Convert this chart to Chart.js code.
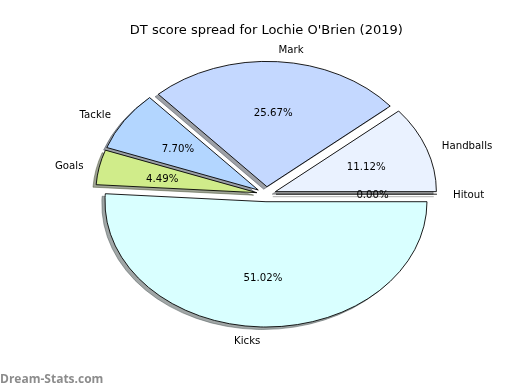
<!DOCTYPE html>
<html>
<head>
<meta charset="utf-8">
<script src="https://cdn.jsdelivr.net/npm/chart.js@4"></script>
<style>
  body { margin: 0; background: #fff; }
  canvas { display: block; }
</style>
</head>
<body>
<canvas id="pieChart" width="520" height="390"></canvas>
<script>
// slices in clockwise order starting at 3 o'clock
const categories = ['Hitout', 'Kicks', 'Goals', 'Tackle', 'Mark', 'Handballs'];
const dtPoints = [0, 477, 42, 72, 240, 104];
const sliceColors = ['#f2f2f2', '#d9ffff', '#d0ec8a', '#b3d6ff', '#c4d8ff', '#eaf2ff'];
const chartTitle = "DT score spread for Lochie O'Brien (2019)";
const watermark = 'Dream-Stats.com';

const radiusX = 161;
const squash = 125.3 / 161;      // the pie is an ellipse in the original
const explode = 0.06 * radiusX;  // every slice pushed out a bit
const textNudge = 1.5;           // canvas 'middle' sits a bit higher than matplotlib's

function hexToRgb(hex) {
  const n = parseInt(hex.slice(1), 16);
  return [(n >> 16) & 255, (n >> 8) & 255, n & 255];
}

function midAngle(arc) {
  return (arc.startAngle + arc.endAngle) / 2;
}

// zero slices are not drawn by chart.js, matplotlib still draws one edge line
function drawSpoke(ctx, arc) {
  const a = arc.startAngle;
  ctx.beginPath();
  ctx.moveTo(arc.x, arc.y);
  ctx.lineTo(arc.x + Math.cos(a) * arc.outerRadius, arc.y + Math.sin(a) * arc.outerRadius);
  ctx.lineWidth = 1;
  ctx.strokeStyle = '#000';
  ctx.stroke();
}

const ellipsePie = {
  id: 'ellipsePie',
  beforeDatasetsDraw(chart) {
    const ctx = chart.ctx;
    const arcs = chart.getDatasetMeta(0).data;
    const cx = arcs[0].x, cy = arcs[0].y;

    ctx.save();
    ctx.translate(cx, cy);
    ctx.scale(1, squash);
    ctx.translate(-cx, -cy);

    // shadows first, shape itself pushed off the canvas
    arcs.forEach(function (arc, i) {
      const mid = midAngle(arc);
      const rgb = hexToRgb(sliceColors[i]).map(v => Math.round(v * 0.3));
      ctx.save();
      ctx.shadowColor = `rgba(${rgb[0]}, ${rgb[1]}, ${rgb[2]}, 0.5)`;
      ctx.shadowBlur = 0;
      ctx.shadowOffsetX = 2000 - 3.2;
      ctx.shadowOffsetY = 2.5;
      ctx.translate(-2000 + Math.cos(mid) * explode, Math.sin(mid) * explode);
      if (arc.circumference === 0) drawSpoke(ctx, arc);
      else arc.draw(ctx);
      ctx.restore();
    });

    arcs.forEach(function (arc) {
      const mid = midAngle(arc);
      ctx.save();
      ctx.translate(Math.cos(mid) * explode, Math.sin(mid) * explode);
      if (arc.circumference === 0) drawSpoke(ctx, arc);
      else arc.draw(ctx);
      ctx.restore();
    });

    ctx.restore();
    return false;
  },
  afterDraw(chart) {
    const ctx = chart.ctx;
    const arcs = chart.getDatasetMeta(0).data;
    const total = dtPoints.reduce((a, b) => a + b, 0);

    ctx.save();
    ctx.fillStyle = '#000';
    ctx.font = '10.2px "DejaVu Sans"';
    ctx.textBaseline = 'middle';
    arcs.forEach(function (arc, i) {
      const mid = midAngle(arc);
      const c = Math.cos(mid), s = Math.sin(mid);

      const lr = explode + 1.1 * radiusX;
      const lx = arc.x + c * lr;
      ctx.textAlign = lx > arc.x ? 'left' : 'right';
      ctx.fillText(categories[i], lx, arc.y + s * lr * squash + textNudge);

      const pr = explode + 0.6 * radiusX;
      ctx.textAlign = 'center';
      ctx.fillText((dtPoints[i] / total * 100).toFixed(2) + '%', arc.x + c * pr, arc.y + s * pr * squash + textNudge);
    });

    ctx.font = 'bold 12px "Open Sans"';
    ctx.fillStyle = '#8c8c8c';
    ctx.textAlign = 'left';
    ctx.textBaseline = 'alphabetic';
    ctx.fillText(watermark, 0, 383);
    ctx.restore();
  }
};

Chart.defaults.font.family = '"DejaVu Sans"';
Chart.defaults.color = '#000';

new Chart(document.getElementById('pieChart'), {
  type: 'pie',
  data: {
    labels: categories,
    datasets: [{
      data: dtPoints,
      backgroundColor: sliceColors,
      borderColor: '#000',
      borderWidth: 1,
      borderJoinStyle: 'miter'
    }]
  },
  options: {
    responsive: false,
    animation: false,
    rotation: 90,
    radius: radiusX,
    layout: { padding: { left: 110, right: 97.4, top: 0, bottom: 49.2 } },
    plugins: {
      legend: { display: false },
      tooltip: { enabled: false },
      title: {
        display: true,
        text: chartTitle,
        fullSize: false,
        font: { size: 13, weight: 'normal' },
        color: '#000',
        padding: { top: 23, bottom: 9 }
      }
    }
  },
  plugins: [ellipsePie]
});
</script>
</body>
</html>
